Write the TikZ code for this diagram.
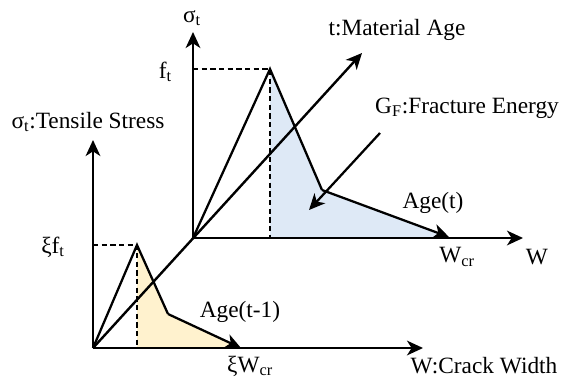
\documentclass[tikz,border=0pt]{standalone}
\usepackage{fontspec}
\setmainfont{Liberation Serif}
\usetikzlibrary{arrows.meta}
\definecolor{fillblue}{RGB}{222,233,246}
\definecolor{fillyellow}{RGB}{255,242,206}
\tikzset{
  axis/.style={line width=1.8pt,-{Stealth[length=12pt,width=11pt,inset=3.5pt]}},
  curve/.style={line width=1.7pt,line join=miter},
  curvearrow/.style={line width=1.7pt,-{Stealth[length=12pt,width=11pt,inset=3.5pt]}},
  guide/.style={line width=1.3pt,dash pattern=on 4pt off 2.5pt},
  lbl/.style={inner sep=0pt,font=\fontsize{17.5}{20}\selectfont}
}
\begin{document}
\begin{tikzpicture}[x=0.75pt,y=-0.75pt]
\useasboundingbox (0,0) rectangle (570,380);
% key points
\coordinate (O1) at (93,348);
\coordinate (O2) at (193,238);
\coordinate (P1) at (137,245);
\coordinate (K1) at (168,314);
\coordinate (E1) at (241,348);
\coordinate (B1) at (137,348);
\coordinate (A1) at (93,245);
\coordinate (P2) at (270,69);
\coordinate (K2) at (322,190);
\coordinate (E2) at (449,237);
\coordinate (B2) at (270,238);
\coordinate (A2) at (193,69);
\coordinate (Y1) at (93,140);
\coordinate (X1) at (423,348);
\coordinate (Y2) at (193,32);
\coordinate (X2) at (523,238);
\coordinate (T) at (362,53);
\coordinate (GS) at (380,133);
\coordinate (GE) at (309,210);
% fills
\fill[fillyellow] (B1) -- (P1) -- (K1) -- (E1) -- cycle;
\fill[fillblue] (B2) -- (P2) -- (K2) -- (E2) -- (449,238) -- cycle;
% guides
\draw[guide] (A1) -- (P1) -- (B1);
\draw[guide] (A2) -- (P2) -- (B2);
% axes
\draw[axis] (O1) -- (Y1);
\draw[axis] (O1) -- (X1);
\draw[axis] (O1) -- (T);
\draw[axis] (O2) -- (Y2);
\draw[axis] (O2) -- (X2);
% curves
\draw[curve] (O1) -- (P1) -- (K1);
\draw[curvearrow] (K1) -- (E1);
\draw[curve] (O2) -- (P2) -- (K2);
\draw[curvearrow] (K2) -- (E2);
\draw[curvearrow] (GS) -- (GE);
% labels
\node[lbl] (ls2) at (192,18) {σ\textsubscript{t}};
\node[lbl,anchor=east] (lft) at (172,72) {f\textsubscript{t}};
\node[lbl] (lts) at (88,122) {σ\textsubscript{t}:Tensile Stress};
\node[lbl] (lma) at (397,30) {t:Material Age};
\node[lbl] (lgf) at (467,108) {G\textsubscript{F}:Fracture Energy};
\node[lbl] (lage) at (433,203) {Age(t)};
\node[lbl] (lwcr) at (457,257) {W\textsubscript{cr}};
\node[lbl] (lw) at (537,257) {W};
\node[lbl] (lxft) at (53,247) {ξf\textsubscript{t}};
\node[lbl] (lage1) at (240,312) {Age(t-1)};
\node[lbl] (lxw) at (250,366) {ξW\textsubscript{cr}};
\node[lbl] (lcw) at (484,366) {W:Crack Width};
\end{tikzpicture}
\end{document}
